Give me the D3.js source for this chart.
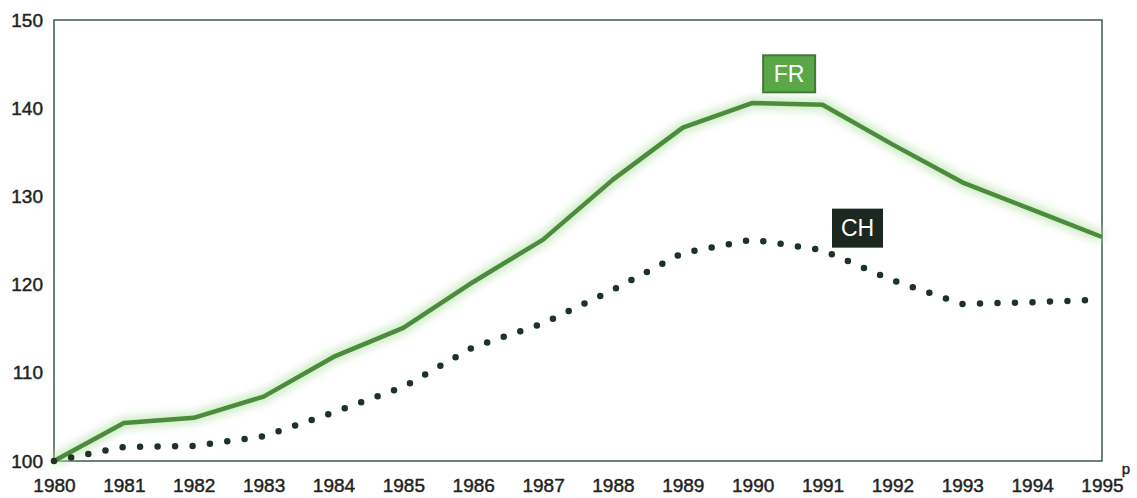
<!DOCTYPE html>
<html>
<head>
<meta charset="utf-8">
<script src="https://cdn.jsdelivr.net/npm/d3@7"></script>
<style>
  body { margin: 0; background: #fff; }
  svg text { font-family: "Liberation Sans", Arial, sans-serif; }
</style>
</head>
<body>
<div id="chart"></div>
<script>
// Data (index, 1980 = 100)
const years = [1980, 1981, 1982, 1983, 1984, 1985, 1986, 1987, 1988, 1989, 1990, 1991, 1992, 1993, 1994, 1995];
const fr = [100, 104.3, 104.9, 107.3, 111.8, 115.1, 120.3, 125.1, 131.9, 137.8, 140.6, 140.4, 135.9, 131.6, 128.5, 125.4];
const ch = [100, 101.6, 101.7, 102.8, 105.5, 108.4, 112.9, 115.6, 119.4, 123.6, 125.1, 123.9, 120.5, 117.8, 118.0, 118.3];
const yTicks = [100, 110, 120, 130, 140, 150];

const W = 1137, H = 498;
const margin = { top: 20, right: 35, bottom: 37, left: 54 };
const textColor = '#1f2321';

const svg = d3.select('#chart').append('svg')
  .attr('width', W).attr('height', H);

const x = d3.scaleLinear().domain([1980, 1995]).range([margin.left, W - margin.right]);
const y = d3.scaleLinear().domain([100, 150]).range([H - margin.bottom, margin.top]);

// Blur filter for the soft halo around the FR line
const defs = svg.append('defs');
defs.append('filter').attr('id', 'glow')
  .attr('x', '-10%').attr('y', '-10%').attr('width', '120%').attr('height', '120%')
  .append('feGaussianBlur').attr('stdDeviation', 4);

// Frame
svg.append('rect')
  .attr('x', x(1980)).attr('y', y(150))
  .attr('width', x(1995) - x(1980)).attr('height', y(100) - y(150))
  .attr('fill', 'none').attr('stroke', '#3b5a4e').attr('stroke-width', 1.5);

const styleTicks = g => g.selectAll('.tick text')
  .attr('fill', textColor).attr('stroke', textColor).attr('stroke-width', 0.45)
  .attr('font-size', '19px')
  .attr('font-family', '"Liberation Sans", Arial, sans-serif');

// Y axis labels
svg.append('g')
  .attr('transform', `translate(${x(1980)},0)`)
  .call(d3.axisLeft(y).tickValues(yTicks).tickSize(0).tickPadding(11))
  .call(g => g.select('.domain').remove())
  .call(styleTicks);

// X axis labels
const xAxis = svg.append('g')
  .attr('transform', `translate(0,${y(100)})`)
  .call(d3.axisBottom(x).tickValues(years).tickSize(0).tickPadding(18).tickFormat(d3.format('d')))
  .call(g => g.select('.domain').remove())
  .call(styleTicks);

// superscript "p" (provisional) after the last year
xAxis.append('text')
  .attr('x', x(1995) + 24).attr('y', 13)
  .attr('fill', textColor).attr('stroke', textColor).attr('stroke-width', 0.4)
  .attr('font-size', '15px')
  .text('p');

const line = d3.line().x((d, i) => x(years[i])).y(d => y(d));

// FR: halo + solid green line
svg.append('path').datum(fr)
  .attr('fill', 'none').attr('stroke', '#b9e3ad').attr('stroke-width', 12)
  .attr('opacity', 0.7).attr('filter', 'url(#glow)').attr('d', line);
svg.append('path').datum(fr)
  .attr('fill', 'none').attr('stroke', '#4a8c3c').attr('stroke-width', 4.5)
  .attr('stroke-linejoin', 'round').attr('d', line);

// CH: round dotted dark line
svg.append('path').datum(ch)
  .attr('fill', 'none').attr('stroke', '#1e3328').attr('stroke-width', 6.5)
  .attr('stroke-linecap', 'round').attr('stroke-dasharray', '0 17.5')
  .attr('d', line);

// Series labels
const labels = [
  { text: 'FR', year: 1990.15, value: 143.9, fill: '#5aa74a', stroke: '#3f7a34', w: 52, h: 37 },
  { text: 'CH', year: 1991.15, value: 126.4, fill: '#1b271f', stroke: '#1b271f', w: 49, h: 37 }
];
labels.forEach(l => {
  const cx = x(l.year) + l.w / 2, cy = y(l.value);
  svg.append('rect')
    .attr('x', cx - l.w / 2).attr('y', cy - l.h / 2)
    .attr('width', l.w).attr('height', l.h)
    .attr('fill', l.fill).attr('stroke', l.stroke).attr('stroke-width', 2);
  svg.append('text')
    .attr('x', cx).attr('y', cy).attr('dy', '0.36em')
    .attr('text-anchor', 'middle').attr('fill', '#fff')
    .attr('font-size', '23px').text(l.text);
});
</script>
</body>
</html>
